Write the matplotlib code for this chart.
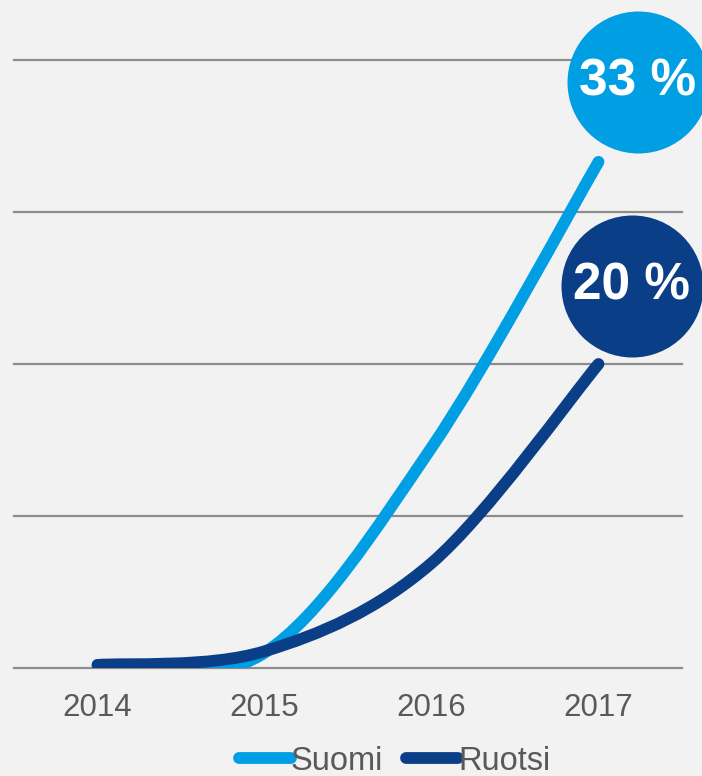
import numpy as np
import matplotlib
matplotlib.use("Agg")
import matplotlib.pyplot as plt
from matplotlib.path import Path
from matplotlib.patches import PathPatch
from matplotlib import transforms

# data
years = [2014, 2015, 2016, 2017]
suomi = [0.2, 1.0, 14.5, 33.3]
ruotsi = [0.2, 1.1, 6.9, 20]
end_labels = ["33 %", "20 %"]

c_light = "#009FE3"
c_dark = "#0A3E87"
bg = "#F2F2F2"

plt.rcParams['font.family'] = ['Liberation Sans', 'DejaVu Sans']


# excel-like smoothed line through the points (bezier, tension 1/6)
def smooth_path(xs, ys):
    pts = np.column_stack([xs, ys]).astype(float)
    verts = [pts[0]]
    codes = [Path.MOVETO]
    n = len(pts)
    for i in range(n - 1):
        p0 = pts[i - 1] if i > 0 else pts[i]
        p1 = pts[i]
        p2 = pts[i + 1]
        p3 = pts[i + 2] if i + 2 < n else pts[i + 1]
        c1 = p1 + (p2 - p0) / 6
        c2 = p2 - (p3 - p1) / 6
        verts += [c1, c2, p2]
        codes += [Path.CURVE4] * 3
    return Path(verts, codes)


fig = plt.figure(figsize=(7.02, 7.76), dpi=100, facecolor=bg)
ax = fig.add_axes([14 / 702, 108 / 776, 668 / 702, 608 / 776])
ax.set_facecolor(bg)
ax.set_xlim(2013.5, 2017.5)
ax.set_ylim(0, 40)

for yv in [0, 10, 20, 30, 40]:
    ax.axhline(yv, color="#8C8C8C", lw=1.6, zorder=1, clip_on=False)

for vals, col in [(suomi, c_light), (ruotsi, c_dark)]:
    patch = PathPatch(smooth_path(years, vals), facecolor="none", edgecolor=col,
                      lw=8.5, capstyle="round", joinstyle="round", zorder=3)
    ax.add_patch(patch)

# bubbles near end values
offsets = [(39, 80), (33, 78)]
for vals, col, lab, (dx, dy) in zip([suomi, ruotsi], [c_light, c_dark], end_labels, offsets):
    tr = transforms.offset_copy(ax.transData, fig=fig, x=dx, y=dy, units='dots')
    ax.scatter([years[-1]], [vals[-1]], s=(142 * 0.72) ** 2, color=col, transform=tr,
               clip_on=False, zorder=4, linewidths=0)
    ax.text(years[-1], vals[-1], lab, transform=tr, ha="center", va="center",
            color="white", fontsize=37, fontweight="bold", zorder=5, clip_on=False)

ax.set_xticks(years)
ax.set_xticklabels([str(y) for y in years])
ax.tick_params(axis="x", length=0, pad=18, labelsize=22.5, labelcolor="#595959")
ax.set_yticks([])
for s in ax.spines.values():
    s.set_visible(False)

# legend
h1, = ax.plot([], [], color=c_light, lw=8.5, solid_capstyle="round", label="Suomi")
h2, = ax.plot([], [], color=c_dark, lw=8.5, solid_capstyle="round", label="Ruotsi")
leg = fig.legend(handles=[h1, h2], loc="center", bbox_to_anchor=(0.562, 15 / 776),
                 ncol=2, frameon=False, fontsize=23.5, handlelength=1.6,
                 handletextpad=0.0, columnspacing=0.7, labelcolor="#595959",
                 borderpad=0.1)

fig.savefig("out.png", dpi=100, facecolor=bg)
